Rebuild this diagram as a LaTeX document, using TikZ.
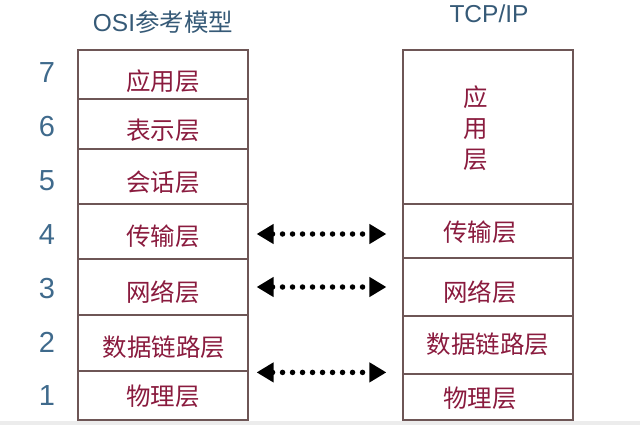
\documentclass[tikz,border=0pt]{standalone}
\usepackage{fontspec}
\setmainfont{Liberation Sans}
\newfontfamily\cjk{Noto Sans CJK SC}
\usetikzlibrary{arrows.meta}

\definecolor{layertext}{HTML}{8A1B3E}
\definecolor{boxline}{HTML}{6E5656}
\definecolor{numblue}{HTML}{3F6A8C}
\definecolor{stripgray}{HTML}{ECECEC}

\newcommand*{\boxw}{170}

\begin{document}
\begin{tikzpicture}
[
	x=1pt, y=-1pt,
	cell/.style={draw=boxline,line width=1.2pt,rectangle,inner sep=0pt,minimum width=\boxw pt},
	layername/.style={text=layertext,font=\cjk\fontsize{24.5}{31}\selectfont,inner sep=0pt,align=center},
	levelnum/.style={text=numblue,font=\fontsize{29}{30}\selectfont,inner sep=0pt},
	heading/.style={text=numblue!85!black,font=\fontsize{24.5}{26}\selectfont,inner sep=0pt},
	peer/.style={line width=5.5pt,line cap=round,dash pattern=on 0pt off 10pt,
		{Triangle[length=17pt,width=19pt]}-{Triangle[length=17pt,width=19pt]},
		shorten <=8pt, shorten >=16pt}
]

	% page and bottom strip
	\useasboundingbox (0,0) rectangle (640,425);
	\fill[stripgray] (0,421) rectangle (640,425);

	% titles
	\node[heading] (osititle) at (163,22) {OSI\cjk 参考模型};
	\node[heading] (tcptitle) at (489,14) {TCP/IP};

	% OSI cells
	\node[cell,minimum height=49pt] (osi7) at (163,74.5) {};
	\node[cell,minimum height=50pt] (osi6) at (163,124) {};
	\node[cell,minimum height=55pt] (osi5) at (163,176.5) {};
	\node[cell,minimum height=55pt] (osi4) at (163,231.5) {};
	\node[cell,minimum height=56pt] (osi3) at (163,287) {};
	\node[cell,minimum height=56pt] (osi2) at (163,343) {};
	\node[cell,minimum height=49pt] (osi1) at (163,395.5) {};

	% OSI names
	\node[layername] (osiname7) at (163,81) {应用层};
	\node[layername] (osiname6) at (163,130) {表示层};
	\node[layername] (osiname5) at (163,182) {会话层};
	\node[layername] (osiname4) at (163,236) {传输层};
	\node[layername] (osiname3) at (163,292) {网络层};
	\node[layername] (osiname2) at (164,347) {数据链路层};
	\node[layername] (osiname1) at (163,396) {物理层};

	% level numbers
	\foreach \n/\y in {7/73,6/127,5/181,4/235,3/289,2/342,1/396}
		\node[levelnum] (num\n) at (47,\y) {\n};

	% TCP/IP cells
	\node[cell,minimum height=154pt] (tcpapp) at (488,127) {};
	\node[cell,minimum height=54pt] (tcptrans) at (488,231) {};
	\node[cell,minimum height=58pt] (tcpnet) at (488,287) {};
	\node[cell,minimum height=58pt] (tcplink) at (488,345) {};
	\node[cell,minimum height=46pt] (tcpphys) at (488,397) {};

	% TCP/IP names
	\node[layername] (tcpnameapp) at (476,128) {应\\用\\层};
	\node[layername] (tcpnametrans) at (480,232) {传输层};
	\node[layername] (tcpnamenet) at (480,292) {网络层};
	\node[layername] (tcpnamelink) at (488,344) {数据链路层};
	\node[layername] (tcpnamephys) at (480,398) {物理层};

	% peer arrows
	\draw[peer] ([yshift=-2.5pt]osi4.east) -- ([yshift=-2.5pt]osi4.east -| tcptrans.west);
	\draw[peer] (osi3.east) -- (osi3.east -| tcpnet.west);
	\draw[peer] ([yshift=-2pt]osi1.north east) -- ([yshift=-2pt]osi1.north east -| tcpphys.west);

\end{tikzpicture}
\end{document}
